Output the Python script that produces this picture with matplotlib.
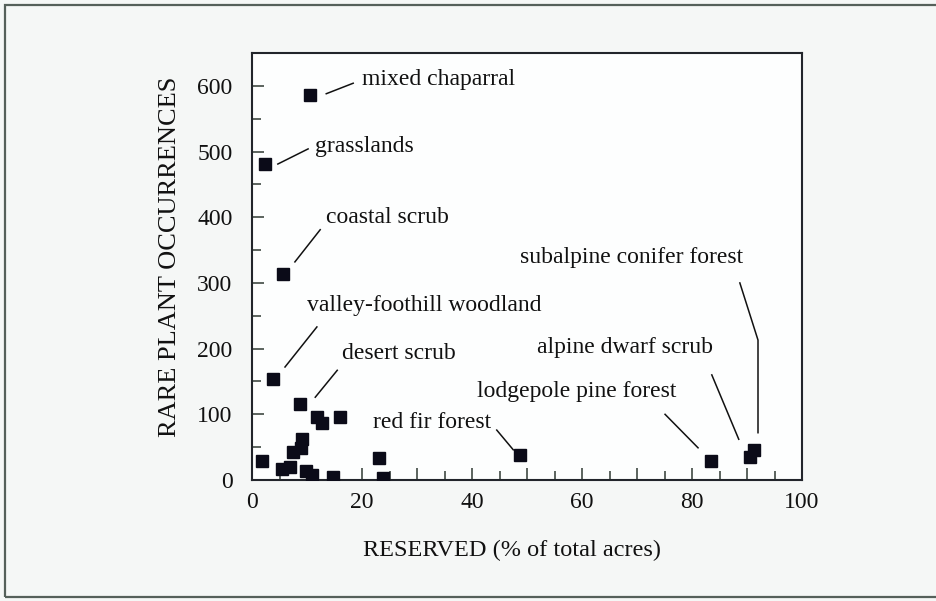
import matplotlib.pyplot as plt
from matplotlib.patches import Rectangle
from matplotlib.ticker import MultipleLocator

# % of acres reserved vs. rare plant occurrences, one point per vegetation type
reserved = [10.5, 2.4, 5.6, 3.9, 8.7, 11.9, 12.8, 16.0, 9.0, 8.9, 7.5, 1.8,
            5.5, 6.9, 9.9, 10.9, 14.8, 23.1, 23.9, 48.7, 83.4, 90.5, 91.3]
occurrences = [586, 481, 313, 154, 116, 96, 87, 96, 62, 48, 43, 29,
               17, 20, 14, 8, 4, 33, 2.5, 38, 29, 35, 45]

names = ['mixed chaparral', 'grasslands', 'coastal scrub',
         'valley-foothill woodland', 'desert scrub', 'red fir forest',
         'lodgepole pine forest', 'alpine dwarf scrub', 'subalpine conifer forest']

# label placement (data units): text anchor and leader line vertices
text_pos = [(20.0, 609), (11.5, 507), (13.5, 399), (10.0, 266), (16.4, 193),
            (22.0, 87), (40.9, 134), (51.8, 202), (48.7, 339)]
leaders = [[(13.5, 588), (18.4, 604)],
           [(4.7, 481), (10.2, 504)],
           [(7.8, 332), (12.4, 381)],
           [(6.0, 172), (11.8, 233)],
           [(11.5, 126), (15.5, 167)],
           [(44.5, 76), (47.5, 46)],
           [(75.1, 100), (81.1, 49)],
           [(83.6, 160), (88.5, 62)],
           [(88.7, 300), (92.0, 213), (92.0, 72)]]

serif = ['Liberation Serif', 'DejaVu Serif']
plt.rcParams['font.family'] = serif

fig = plt.figure(figsize=(9.36, 6.01), dpi=100, facecolor='#f5f7f6')
ax = fig.add_axes([252 / 936, 121 / 601, 550 / 936, 427 / 601])
ax.set_facecolor('#fdfefe')

# outer frame of the figure panel
fig.add_artist(Rectangle((5 / 936, 4 / 601), 1.05, 592 / 601, transform=fig.transFigure,
                         fill=False, edgecolor='#55605a', linewidth=1.6))

ax.plot(reserved, occurrences, 's', color='#0b0b18', markersize=8.8, zorder=3)

for name, (tx, ty), pts in zip(names, text_pos, leaders):
    ax.text(tx, ty, name, fontsize=17, va='center', ha='left', color='#111111')
    ax.plot([p[0] for p in pts], [p[1] for p in pts], color='#111111', lw=1.1)

ax.set_xlim(0, 100)
ax.set_ylim(0, 650)
ax.xaxis.set_major_locator(MultipleLocator(20))
ax.xaxis.set_minor_locator(MultipleLocator(5))
ax.yaxis.set_major_locator(MultipleLocator(100))
ax.yaxis.set_minor_locator(MultipleLocator(50))

for s in ax.spines.values():
    s.set_linewidth(1.5)
    s.set_color('#22252b')

ax.tick_params(which='both', direction='in', color='#2f3a33', width=1.1,
               labelsize=17, labelcolor='#111111')
ax.tick_params(which='major', length=8.6)
ax.tick_params(which='minor', length=6.3)
ax.tick_params(axis='x', which='major', pad=9)
ax.tick_params(axis='y', which='major', pad=14)

# x minor ticks at the unlabelled tens should be long ones
for t, loc in zip(ax.xaxis.get_minor_ticks(), ax.xaxis.get_minorticklocs()):
    if round(loc) % 10 == 0:
        t.tick1line.set_markersize(8.6)

fig.text(512 / 936, 1 - 550 / 601, 'RESERVED (% of total acres)', fontsize=17.5,
         ha='center', va='center', color='#111111')
fig.text(170 / 936, 1 - 257 / 601, 'RARE PLANT OCCURRENCES', fontsize=19,
         ha='center', va='center', rotation=90, color='#111111')

fig.savefig('out.png', dpi=100, facecolor=fig.get_facecolor())
